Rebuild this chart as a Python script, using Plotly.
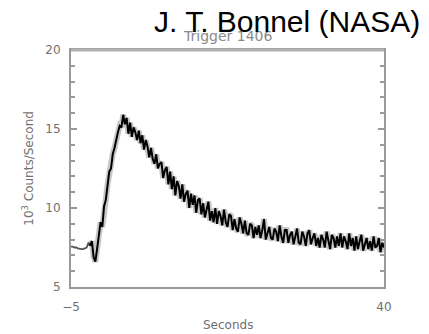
import plotly.graph_objects as go

# Light curve of BATSE trigger 1406 (rate in 10^3 counts/s), sampled every 0.25 s from t = -5 s
T0 = -5.0
DT = 0.25

pre_burst = [7.55, 7.55, 7.5, 7.5, 7.45, 7.4, 7.4, 7.4, 7.45, 7.5, 7.8, 7.6]

burst = [
    7.9, 6.9, 6.6, 7.4, 8.4, 9.1, 8.8, 10.1,
    10.5, 11.5, 12.3, 12.5, 13.4, 13.8, 14.4, 14.8,
    15.2, 15.1, 15.9, 15.3, 15.7, 14.7, 15.4, 14.5,
    15.1, 14.8, 14.3, 14.9, 14.1, 14.6, 13.7, 14.3,
    13.9, 13.2, 13.8, 13.1, 12.8, 13.4, 12.5, 12.8,
]

decay = [
    12.9, 11.9, 12.4, 12.6, 11.5, 12.3, 11.2, 12.0,
    10.8, 11.7, 11.4, 10.6, 11.5, 10.4, 10.9, 11.1,
    10.0, 10.9, 10.2, 10.8, 9.7, 10.5, 10.6, 9.6,
    10.3, 9.4, 9.9, 10.4, 9.2, 9.8, 9.1, 10.0,
    9.0, 9.8, 9.5, 8.9, 9.9, 9.1, 8.8, 9.6,
    9.5, 8.6, 9.3, 8.7, 8.5, 9.4, 9.0, 8.4,
    9.2, 8.4, 8.3, 9.0, 8.9, 8.1, 8.8, 8.3,
    8.9, 8.1, 8.6, 9.3, 8.0, 8.4, 8.8, 8.1,
    8.0, 8.7, 8.5, 7.9, 8.9, 8.2, 7.8, 8.6,
    8.6, 7.8, 8.3, 8.5, 7.7, 8.2, 8.7, 7.8,
    7.7, 8.5, 8.2, 7.6, 8.4, 8.6, 7.7, 8.1,
    8.4, 7.6, 8.1, 7.5, 8.3, 8.0, 7.5, 8.5,
    7.9, 7.4, 8.3, 8.1, 7.5, 8.2, 7.6, 8.4,
    7.5, 8.2, 7.9, 7.4, 8.4, 7.6, 8.1, 7.3,
    8.2, 7.4, 7.9, 8.3, 7.3, 7.8, 8.1, 7.4,
    7.9, 7.3, 8.2, 7.5, 7.6, 8.1, 7.2, 7.8,
    7.5,
]

x_ticks = [-5, 40]
y_ticks = [5, 10, 15, 20]

title_text = "Trigger 1406"
credit_text = "J. T. Bonnel (NASA)"
x_title = "Seconds"
y_title = "10<sup>3</sup> Counts/Second"

n_pre = len(pre_burst)
t_pre = [T0 + i * DT for i in range(n_pre)]
rate_main = burst + decay
t_main = [T0 + (n_pre + i) * DT for i in range(len(rate_main))]
# join the pre-burst stretch to the main curve
t_main = [t_pre[-1]] + t_main
rate_main = [pre_burst[-1]] + rate_main

fig = go.Figure()
fig.add_trace(go.Scatter(x=t_pre, y=pre_burst, mode="lines",
                         line=dict(color="#555555", width=1.8), hoverinfo="skip"))
fig.add_trace(go.Scatter(x=t_main, y=rate_main, mode="lines",
                         line=dict(color="rgba(0,0,0,0.22)", width=6), hoverinfo="skip"))
fig.add_trace(go.Scatter(x=t_main, y=rate_main, mode="lines",
                         line=dict(color="#000000", width=2), hoverinfo="skip"))

axis_col = "#9a9a9a"
lab_col = "#707070"
fnt = "DejaVu Sans"

fig.update_layout(
    width=429, height=334,
    margin=dict(l=71, r=45, t=50, b=47),
    paper_bgcolor="white", plot_bgcolor="white",
    showlegend=False,
    xaxis=dict(range=[-5, 40], tickvals=x_ticks, showgrid=False, zeroline=False,
               showline=True, linecolor=axis_col, linewidth=2, mirror=True,
               ticks="", tickfont=dict(family=fnt, size=12, color=lab_col),
               ticklabelstandoff=8),
    yaxis=dict(range=[5, 20], tickvals=y_ticks, showgrid=False, zeroline=False,
               showline=True, linecolor=axis_col, linewidth=2, mirror="ticks",
               ticks="inside", ticklen=6, tickwidth=2, tickcolor=axis_col,
               minor=dict(ticks="inside", ticklen=4, tickwidth=2, tickcolor=axis_col, dtick=1),
               tickfont=dict(family=fnt, size=12, color=lab_col),
               ticklabelstandoff=6),
    shapes=[dict(type="line", xref="paper", yref="paper", x0=0, x1=1, y0=1, y1=1,
                 line=dict(color="#b0b0b0", width=3))],
    annotations=[
        dict(text=title_text, xref="paper", yref="paper", x=0.5, y=1.06,
             xanchor="center", yanchor="middle", showarrow=False,
             font=dict(family=fnt, size=14, color="#8a8a8a")),
        dict(text=credit_text, xref="paper", yref="paper", x=1.121, y=1.12,
             xanchor="right", yanchor="middle", showarrow=False,
             font=dict(family="Liberation Sans", size=30, color="#000000")),
        dict(text=x_title, xref="paper", yref="paper", x=0.5, y=-0.16,
             xanchor="center", yanchor="middle", showarrow=False,
             font=dict(family=fnt, size=12, color=lab_col)),
        dict(text=y_title, xref="paper", yref="paper", x=-0.14, y=0.5,
             xanchor="center", yanchor="middle", showarrow=False, textangle=-90,
             font=dict(family=fnt, size=12, color=lab_col)),
    ],
)

fig.write_html("out.html")
